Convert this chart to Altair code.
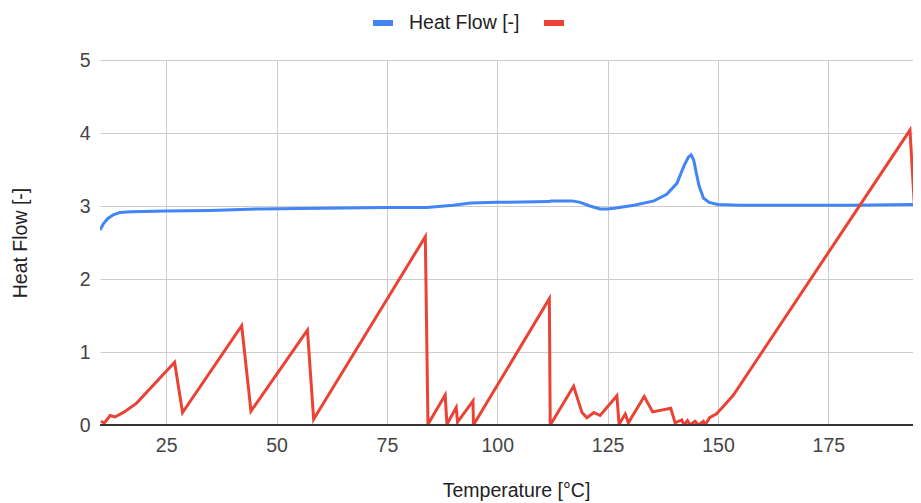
import altair as alt
import pandas as pd

# Heat Flow (blue) series
temp_blue = [10.0, 10.8, 11.8, 13.0, 14.5, 17.0, 25.0, 35.0, 46.0, 60.0, 75.0, 84.0, 86.0, 90.0,
             94.0, 100.0, 111.8, 112.2, 117.0, 118.8, 121.0, 123.3, 125.0, 126.5, 131.0, 135.5,
             138.4, 140.7, 142.3, 143.3, 143.9, 144.5, 145.1, 145.7, 146.7, 148.0, 150.0, 155.0,
             165.0, 180.0, 196.0]
heat_blue = [2.67, 2.76, 2.83, 2.88, 2.91, 2.92, 2.93, 2.94, 2.96, 2.97, 2.98, 2.98, 2.99, 3.01,
             3.04, 3.05, 3.06, 3.07, 3.07, 3.05, 3.00, 2.96, 2.96, 2.97, 3.01, 3.07,
             3.16, 3.31, 3.55, 3.67, 3.70, 3.63, 3.45, 3.28, 3.11, 3.05, 3.02, 3.01,
             3.01, 3.01, 3.02]

# Second (red) series
temp_red = [10.2, 11.0, 12.3, 13.4, 15.5, 18.3, 26.9, 28.7, 42.1, 44.2, 57.0, 58.4, 83.7, 84.3,
            88.2, 88.6, 90.7, 91.0, 94.5, 94.6, 111.8, 112.0, 117.3, 119.2, 120.3, 121.9, 123.3,
            127.1, 127.6, 129.0, 129.7, 133.3, 135.2, 139.3, 140.3, 141.8, 142.3, 143.1, 143.7,
            144.8, 145.6, 146.7, 147.1, 148.1, 149.6, 151.0, 153.5, 193.5, 196.0]
val_red = [0.05, 0.03, 0.13, 0.11, 0.18, 0.30, 0.86, 0.17, 1.36, 0.19, 1.30, 0.08, 2.58, 0.01,
           0.41, 0.01, 0.24, 0.04, 0.33, 0.00, 1.73, 0.00, 0.53, 0.17, 0.10, 0.17, 0.13,
           0.40, 0.01, 0.15, 0.03, 0.39, 0.18, 0.23, 0.03, 0.07, 0.00, 0.06, 0.00,
           0.05, 0.00, 0.05, 0.00, 0.10, 0.15, 0.24, 0.41, 4.04, 1.45]

series_names = ["Heat Flow [-]", "s2"]
series_colors = ["#4285F4", "#EA4335"]
x_ticks = [25, 50, 75, 100, 125, 150, 175]
y_ticks = [0, 1, 2, 3, 4, 5]

df = pd.concat([
    pd.DataFrame({"t": temp_blue, "v": heat_blue, "s": series_names[0], "o": 0}),
    pd.DataFrame({"t": temp_red, "v": val_red, "s": series_names[1], "o": 1}),
])

FONT = "Liberation Sans"
FS = 19.5
PLOT_W = 813
X_MAX = 10 + PLOT_W / 4.414

x = alt.X("t:Q", scale=alt.Scale(domain=[10, X_MAX], nice=False, zero=False),
          axis=alt.Axis(values=x_ticks, title="Temperature [°C]", grid=True, gridColor="#cccccc",
                        domain=False, ticks=False, labelPadding=11, labelFontSize=FS,
                        labelColor="#444444", labelFont=FONT, titleFont=FONT, titleFontSize=FS,
                        titleFontWeight="normal", titleColor="#222222", titleX=416,
                        titleY=71, titleBaseline="alphabetic", titleAnchor="start",
                        titleAlign="center", labelFlush=False))
y = alt.Y("v:Q", scale=alt.Scale(domain=[0, 5], nice=False),
          axis=alt.Axis(values=y_ticks, format="d", title="Heat Flow [-]", grid=True,
                        gridColor="#cccccc",
                        domain=False, ticks=False, labelPadding=10, labelFontSize=FS,
                        labelColor="#444444", labelFont=FONT, titleFont=FONT, titleFontSize=FS,
                        titleFontWeight="normal", titleColor="#222222", titleX=-80,
                        titleY=182.5, titleAngle=-90, titleAlign="center",
                        titleBaseline="middle", titleAnchor="start"))

lines = alt.Chart(df).mark_line(strokeWidth=3, clip=True).encode(
    x=x, y=y,
    color=alt.Color("s:N", scale=alt.Scale(domain=series_names, range=series_colors),
                    legend=alt.Legend(title=None, orient="none", direction="horizontal",
                                      legendX=270, legendY=-50, padding=0,
                                      symbolType="stroke", symbolSize=400,
                                      symbolStrokeWidth=6, labelFontSize=FS, labelFont=FONT,
                                      labelColor="#222222", labelOffset=13, columnPadding=12,
                                      labelExpr="datum.label == 's2' ? '' : datum.label")),
    order="o:Q",
)

base = alt.Chart(df).mark_rule(color="#333333", strokeWidth=2).encode(y=alt.datum(0))

chart = alt.layer(lines, base).properties(
    width=PLOT_W, height=365,
    autosize=alt.AutoSizeParams(type="none"),
    padding={"left": 92, "top": 52, "right": 0, "bottom": 80},
).configure_view(stroke=None)

chart.save("out.html", embed_options={"renderer": "svg", "actions": False})
